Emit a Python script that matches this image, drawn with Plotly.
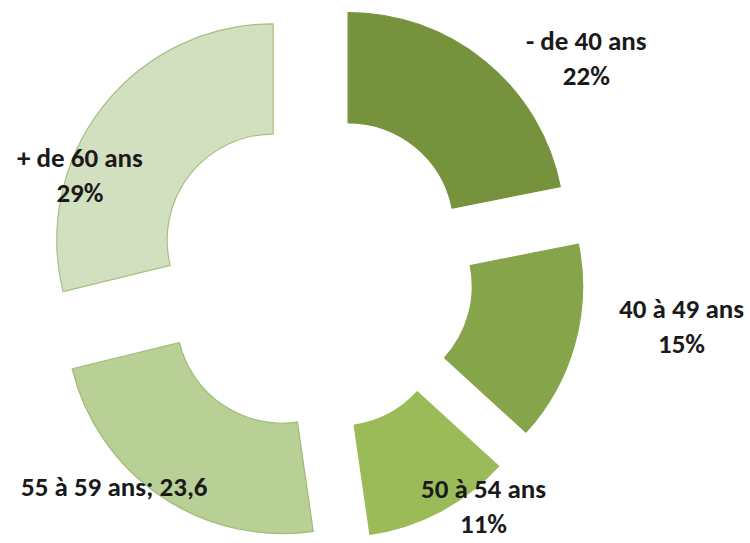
import plotly.graph_objects as go

# Data
categories = ["- de 40 ans", "40 à 49 ans", "50 à 54 ans", "55 à 59 ans", "+ de 60 ans"]
values = [22, 15, 11, 23.6, 29]
label_texts = ["- de 40 ans<br>22%", "40 à 49 ans<br>15%", "50 à 54 ans<br>11%",
               "55 à 59 ans; 23,6", "+ de 60 ans<br>29%"]

# Styles
colors = ["#76923C", "#86A44A", "#9BBB59", "#B8CF95", "#D3E0C0"]
edge_colors = ["#76923C", "#86A44A", "#9BBB59", "#9FBB76", "#A6C083"]
pulls = [0.255, 0.255, 0.255, 0.255, 0.235]
label_pos = [(586, 58), (681, 326), (483, 506), (115, 486), (80, 175)]  # px centres

W, H = 750, 543

fig = go.Figure(go.Pie(
    labels=categories,
    values=values,
    sort=False,
    direction="clockwise",
    rotation=0,
    hole=0.49,
    pull=pulls,
    textinfo="none",
    hoverinfo="label+value",
    marker=dict(colors=colors, line=dict(color=edge_colors, width=1.2)),
    domain=dict(x=[0, 0.835], y=[0, 1]),
    showlegend=False,
))

font = dict(family="Carlito, Liberation Sans Narrow, Arial Narrow, Liberation Sans, sans-serif",
            size=27, color="#1a1a1a")
for txt, (px, py) in zip(label_texts, label_pos):
    fig.add_annotation(x=px / W, y=1 - py / H, xref="paper", yref="paper",
                       text="<b>" + txt.replace("<br>", "</b><br><b>") + "</b>", showarrow=False,
                       xanchor="center", yanchor="middle", align="center", font=font,
                       borderpad=0)

fig.update_layout(width=W, height=H, margin=dict(l=0, r=0, t=0, b=0),
                  paper_bgcolor="white", plot_bgcolor="white")
fig.write_html("out.html", config={"displayModeBar": False},
               post_script="document.body.style.margin='0';")
